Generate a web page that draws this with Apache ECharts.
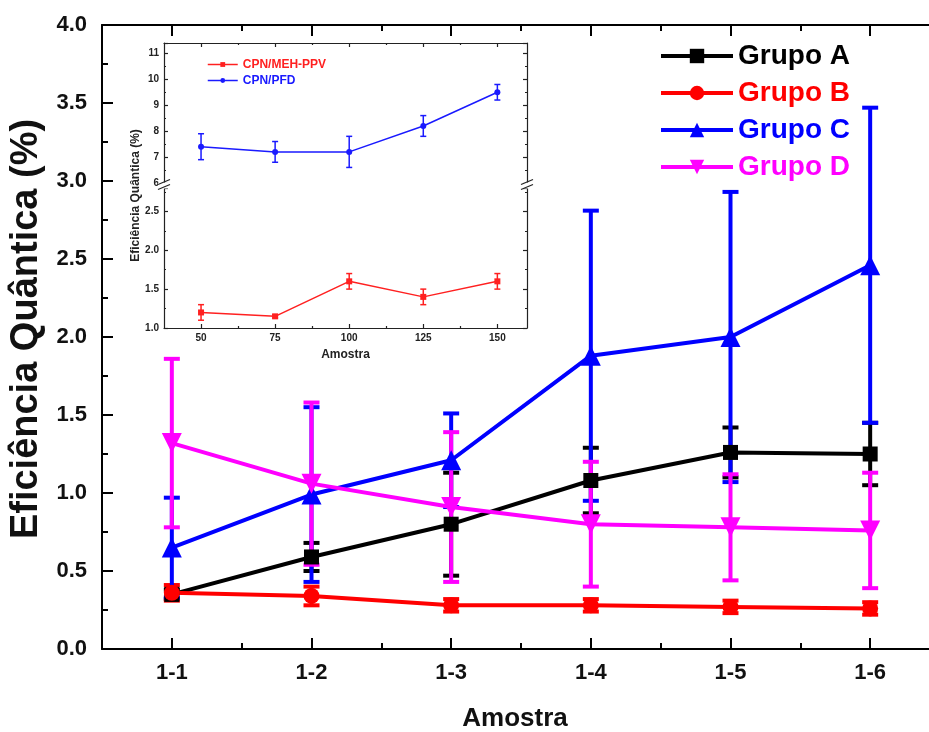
<!DOCTYPE html>
<html><head><meta charset="utf-8">
<script src="https://cdn.jsdelivr.net/npm/echarts@6/dist/echarts.min.js"></script>
<style>html,body{margin:0;padding:0;background:#fff}#c{width:929px;height:732px}</style>
</head><body><div id="c"></div>
<script>
// ---------- main chart data ----------
const categories = ['1-1', '1-2', '1-3', '1-4', '1-5', '1-6'];
const grupoA = [0.35, 0.59, 0.80, 1.08, 1.26, 1.25];
const grupoAErr = [0.03, 0.09, 0.33, 0.21, 0.16, 0.20];
const grupoB = [0.36, 0.34, 0.28, 0.28, 0.27, 0.26];
const grupoBErr = [0.05, 0.06, 0.04, 0.04, 0.04, 0.04];
const grupoC = [0.65, 0.99, 1.21, 1.88, 2.00, 2.46];
const grupoCErr = [0.32, 0.56, 0.30, 0.93, 0.93, 1.01];
const grupoD = [1.32, 1.06, 0.91, 0.80, 0.78, 0.76];
const grupoDErr = [0.54, 0.52, 0.48, 0.40, 0.34, 0.37];

// ---------- inset data ----------
const insetX = [50, 75, 100, 125, 150];
const insetMinorX = [62.5, 87.5, 112.5, 137.5];
const mehPPV = [1.20, 1.15, 1.60, 1.40, 1.60];
const mehPPVErr = [0.10, 0.02, 0.10, 0.10, 0.10];
const pfd = [7.4, 7.2, 7.2, 8.2, 9.5];
const pfdErr = [0.5, 0.4, 0.6, 0.4, 0.3];

const FONT = 'Liberation Sans, Arial, Helvetica, sans-serif';
const COLORS = { A: '#000000', B: '#ff0000', C: '#0000ff', D: '#ff00ff' };

// layout
const MAIN = { left: 102, top: 25, width: 838, height: 624 };
const INS = { left: 164, right: 527, top: 43, upperBottom: 183, lowerTop: 188, bottom: 328 };

function errRender(color, lw, cap) {
  return function (params, api) {
    const x = api.value(0), y = api.value(1), e = api.value(2);
    const t = api.coord([x, y + e]);
    const b = api.coord([x, y - e]);
    const st = { stroke: color, lineWidth: lw };
    return {
      type: 'group',
      children: [
        { type: 'line', shape: { x1: t[0], y1: t[1], x2: b[0], y2: b[1] }, style: st },
        { type: 'line', shape: { x1: t[0] - cap, y1: t[1], x2: t[0] + cap, y2: t[1] }, style: st },
        { type: 'line', shape: { x1: b[0] - cap, y1: b[1], x2: b[0] + cap, y2: b[1] }, style: st }
      ]
    };
  };
}

function mainSeries(name, vals, errs, color, symbol, size, rotate) {
  return [
    {
      name: name, type: 'line', xAxisIndex: 0, yAxisIndex: 0,
      data: vals.map((v, i) => [i, v]),
      symbol: symbol, symbolSize: size, symbolRotate: rotate || 0,
      lineStyle: { color: color, width: 4 },
      itemStyle: { color: color },
      z: 3
    },
    {
      name: name, type: 'custom', xAxisIndex: 0, yAxisIndex: 0,
      data: vals.map((v, i) => [i, v, errs[i]]),
      renderItem: errRender(color, 4, 8),
      z: 3, silent: true
    }
  ];
}

function insetSeries(name, vals, errs, color, symbol, xi, yi) {
  return [
    {
      name: name, type: 'line', xAxisIndex: xi, yAxisIndex: yi,
      data: insetX.map((x, i) => [x, vals[i]]),
      symbol: symbol, symbolSize: 6,
      lineStyle: { color: color, width: 1.5 },
      itemStyle: { color: color },
      z: 5
    },
    {
      name: name, type: 'custom', xAxisIndex: xi, yAxisIndex: yi,
      data: insetX.map((x, i) => [x, vals[i], errs[i]]),
      renderItem: errRender(color, 1.5, 3),
      z: 5, silent: true
    }
  ];
}

const axisLineMain = { show: true, lineStyle: { color: '#000', width: 2 } };
const axisLineIns = { show: true, lineStyle: { color: '#222', width: 1.2 } };

function mainCatAxis(position, major, labels) {
  return {
    type: 'category', gridIndex: 0, position: position, data: categories, boundaryGap: true,
    axisLine: major ? axisLineMain : { show: false },
    axisTick: { show: true, inside: true, alignWithLabel: major, length: major ? 11 : 6, lineStyle: { color: '#000', width: 2 } },
    axisLabel: labels ? { show: true, fontSize: 22, fontWeight: 'bold', color: '#111', fontFamily: FONT, margin: 13 } : { show: false },
    splitLine: { show: false }
  };
}

function mainYAxis(position, labels) {
  return {
    type: 'value', gridIndex: 0, position: position, min: 0, max: 4, interval: 0.5,
    axisLine: axisLineMain,
    axisTick: { show: true, inside: true, length: 11, lineStyle: { color: '#000', width: 2 } },
    minorTick: { show: true, splitNumber: 2, length: 6, lineStyle: { color: '#000', width: 2 } },
    axisLabel: labels ? { show: true, fontSize: 22, fontWeight: 'bold', color: '#111', fontFamily: FONT, margin: 15, formatter: v => v.toFixed(1) } : { show: false },
    splitLine: { show: false },
    name: labels ? 'Eficiência Quântica (%)' : '',
    nameLocation: 'middle', nameGap: 56,
    nameTextStyle: { fontSize: 38, fontWeight: 'bold', color: '#111', fontFamily: FONT, padding: [0, 0, 0, 16] }
  };
}

function insetXAxis(grid, position, ticks, len, showLine, labels) {
  return {
    type: 'value', gridIndex: grid, position: position, min: 37.5, max: 160,
    axisLine: showLine ? axisLineIns : { show: false },
    axisTick: { show: true, inside: true, length: len, customValues: ticks, lineStyle: { color: '#222', width: 1.2 } },
    axisLabel: labels ? { show: true, customValues: insetX, fontSize: 10, fontWeight: 'bold', color: '#222', fontFamily: FONT, margin: 5 } : { show: false },
    splitLine: { show: false },
    name: labels ? 'Amostra' : '',
    nameLocation: 'middle', nameGap: 21,
    nameTextStyle: { fontSize: 12, fontWeight: 'bold', color: '#222', fontFamily: FONT }
  };
}

function insetYAxis(grid, position, min, max, interval, labels, fmt) {
  return {
    type: 'value', gridIndex: grid, position: position, min: min, max: max, interval: interval,
    axisLine: axisLineIns,
    axisTick: { show: true, inside: true, length: 4, lineStyle: { color: '#222', width: 1.2 } },
    minorTick: { show: true, splitNumber: 2, length: 2, lineStyle: { color: '#222', width: 1 } },
    axisLabel: labels ? { show: true, fontSize: 10, fontWeight: 'bold', color: '#222', fontFamily: FONT, margin: 5, formatter: fmt } : { show: false },
    splitLine: { show: false }
  };
}

const upperFmt = v => (Math.abs(v - Math.round(v)) < 1e-6 ? String(Math.round(v)) : '');
const lowerFmt = v => (Math.abs(v * 2 - Math.round(v * 2)) < 1e-6 ? v.toFixed(1) : '');

const chart = echarts.init(document.getElementById('c'), null, { renderer: 'canvas' });

function breakMarks(x) {
  const yc = (INS.upperBottom + INS.lowerTop) / 2;
  const st = { stroke: '#222', lineWidth: 1.2 };
  return [
    { type: 'rect', shape: { x: x - 6, y: yc - 3, width: 12, height: 6 }, style: { fill: '#fff' }, z: 20 },
    { type: 'line', shape: { x1: x - 6, y1: yc - 1, x2: x + 6, y2: yc - 6 }, style: st, z: 21 },
    { type: 'line', shape: { x1: x - 6, y1: yc + 4, x2: x + 6, y2: yc - 1 }, style: st, z: 21 }
  ];
}

const insetGrid = (top, height) => ({
  left: INS.left, top: top, width: INS.right - INS.left, height: height,
  show: true, backgroundColor: '#fff', borderWidth: 0, outerBoundsMode: 'none'
});

const option = {
  animation: false,
  backgroundColor: '#fff',
  textStyle: { fontFamily: FONT },
  grid: [
    { left: MAIN.left, top: MAIN.top, width: MAIN.width, height: MAIN.height, outerBoundsMode: 'none', containLabel: false },
    insetGrid(INS.top, INS.upperBottom - INS.top),
    insetGrid(INS.lowerTop, INS.bottom - INS.lowerTop),
    insetGrid(INS.top, INS.bottom - INS.top)
  ],
  xAxis: [
    mainCatAxis('bottom', true, true),
    mainCatAxis('bottom', false, false),
    mainCatAxis('top', true, false),
    mainCatAxis('top', false, false),
    insetXAxis(1, 'top', insetX, 4, true, false),
    insetXAxis(1, 'top', insetMinorX, 2, false, false),
    insetXAxis(2, 'bottom', insetX, 4, true, true),
    insetXAxis(2, 'bottom', insetMinorX, 2, false, false),
    { type: 'value', gridIndex: 3, show: false, min: 0, max: 1 }
  ],
  yAxis: [
    mainYAxis('left', true),
    mainYAxis('right', false),
    insetYAxis(1, 'left', 6, 11.4, 1, true, upperFmt),
    insetYAxis(1, 'right', 6, 11.4, 1, false, upperFmt),
    insetYAxis(2, 'left', 1, 2.8, 0.5, true, lowerFmt),
    insetYAxis(2, 'right', 1, 2.8, 0.5, false, lowerFmt),
    {
      type: 'value', gridIndex: 3, min: 0, max: 1, position: 'left',
      axisLine: { show: false }, axisTick: { show: false }, axisLabel: { show: false }, splitLine: { show: false },
      name: 'Eficiência Quântica (%)', nameLocation: 'middle', nameGap: 22,
      nameTextStyle: { fontSize: 12, fontWeight: 'bold', color: '#222', fontFamily: FONT, padding: [0, 20, 0, 0] }
    }
  ],
  legend: [
    {
      orient: 'vertical', left: 654, top: 36, itemWidth: 72, itemHeight: 18, itemGap: 7,
      lineStyle: { width: 4 },
      textStyle: { fontSize: 28, fontWeight: 'bold', fontFamily: FONT, lineHeight: 30 },
      data: [
        { name: 'Grupo A', textStyle: { color: COLORS.A } },
        { name: 'Grupo B', textStyle: { color: COLORS.B } },
        { name: 'Grupo C', textStyle: { color: COLORS.C } },
        { name: 'Grupo D', textStyle: { color: COLORS.D } }
      ],
      selectedMode: false
    },
    {
      orient: 'vertical', left: 202, top: 53, itemWidth: 30, itemHeight: 6, itemGap: 3,
      lineStyle: { width: 1.5 },
      textStyle: { fontSize: 12, fontWeight: 'bold', fontFamily: FONT, lineHeight: 13 },
      data: [
        { name: 'CPN/MEH-PPV', textStyle: { color: '#ff2020' } },
        { name: 'CPN/PFD', textStyle: { color: '#1a1aff' } }
      ],
      selectedMode: false
    }
  ],
  graphic: [].concat(breakMarks(INS.left), breakMarks(INS.right)),
  series: [].concat(
    mainSeries('Grupo A', grupoA, grupoAErr, COLORS.A, 'rect', 15),
    mainSeries('Grupo B', grupoB, grupoBErr, COLORS.B, 'circle', 16),
    mainSeries('Grupo C', grupoC, grupoCErr, COLORS.C, 'triangle', 20),
    mainSeries('Grupo D', grupoD, grupoDErr, COLORS.D, 'triangle', 20, 180),
    insetSeries('CPN/MEH-PPV', mehPPV, mehPPVErr, '#ff2020', 'rect', 6, 4),
    insetSeries('CPN/PFD', pfd, pfdErr, '#1a1aff', 'circle', 4, 2)
  )
};

// x-axis name for main chart
option.xAxis[0].name = 'Amostra';
option.xAxis[0].nameLocation = 'middle';
option.xAxis[0].nameGap = 57;
option.xAxis[0].nameTextStyle = { fontSize: 26, fontWeight: 'bold', color: '#111', fontFamily: FONT, padding: [0, 12, 0, 0] };

chart.setOption(option);
</script>
</body></html>
